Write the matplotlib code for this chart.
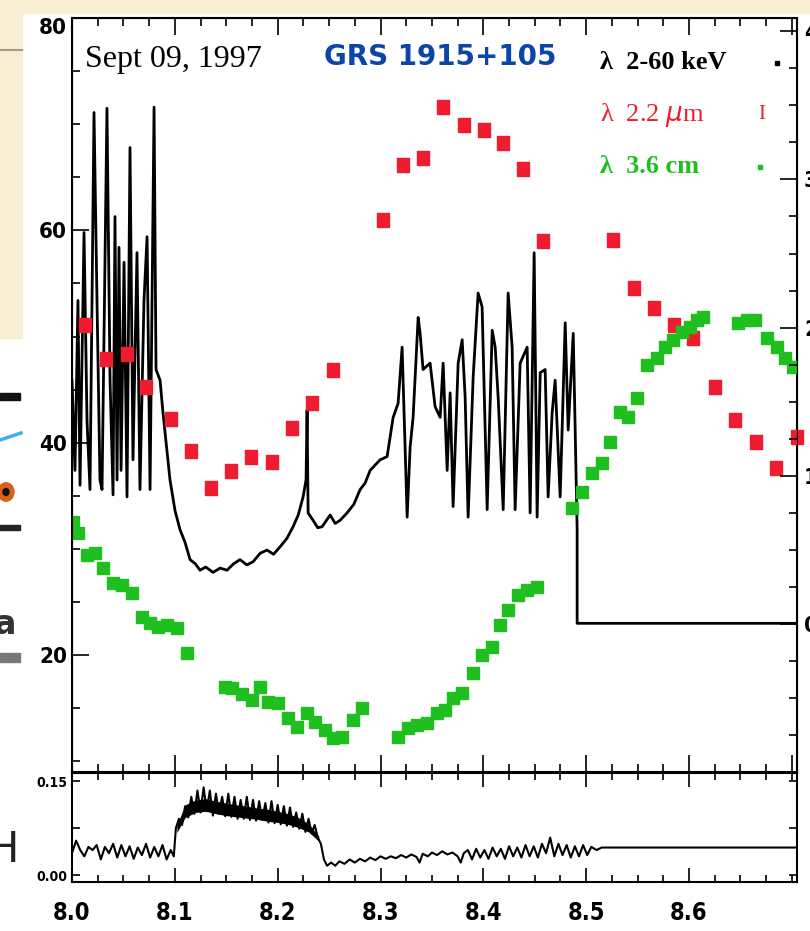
import numpy as np
import matplotlib
matplotlib.use('Agg')
import matplotlib.pyplot as plt
from matplotlib.patches import Rectangle, Circle
from matplotlib.ticker import MultipleLocator

# ---- X-ray light curve, 2-60 keV (counts, left axis) ----
xray_t = [8.0000, 8.0029, 8.0058, 8.0078, 8.0117, 8.0146, 8.0175, 8.0214, 8.0243, 8.0272,
          8.0292, 8.0340, 8.0370, 8.0399, 8.0418, 8.0438, 8.0457, 8.0477, 8.0506, 8.0535,
          8.0564, 8.0593, 8.0632, 8.0661, 8.0700, 8.0730, 8.0759, 8.0798, 8.0817, 8.0856,
          8.0885, 8.0953, 8.1002, 8.1051, 8.1100, 8.1148, 8.1200, 8.1245, 8.1300, 8.1372,
          8.1440, 8.1508, 8.1570, 8.1634, 8.1700, 8.1761, 8.1830, 8.1897, 8.1960, 8.2023,
          8.2090, 8.2150, 8.2200, 8.2247, 8.2276, 8.2286, 8.2296, 8.2344, 8.2390, 8.2432,
          8.2510, 8.2560, 8.2607, 8.2675, 8.2740, 8.2802, 8.2850, 8.2899, 8.2996, 8.3064,
          8.3123, 8.3171, 8.3210, 8.3239, 8.3259,
          8.3288, 8.3317, 8.3366, 8.3385, 8.3414, 8.3482, 8.3531, 8.3580, 8.3609, 8.3648,
          8.3677, 8.3706, 8.3755, 8.3794, 8.3823, 8.3852, 8.3901, 8.3949, 8.3988, 8.4037,
          8.4086, 8.4115, 8.4144, 8.4193, 8.4241, 8.4280, 8.4309, 8.4358, 8.4426, 8.4455,
          8.4494, 8.4523, 8.4553, 8.4601, 8.4630, 8.4669, 8.4698, 8.4747, 8.4796, 8.4825,
          8.4874, 8.4893, 8.4912, 8.4912, 8.7050]
xray_c = [45.9, 37.4, 53.4, 36.0, 59.8, 42.1, 35.6, 71.1, 53.4, 36.5,
          35.6, 71.5, 45.9, 35.1, 61.3, 36.5, 58.4, 37.4, 57.0, 34.9,
          67.8, 38.4, 57.9, 35.6, 53.4, 59.4, 35.6, 71.6, 46.9, 45.9,
          42.8, 36.5, 33.6, 31.8, 30.6, 29.0, 28.6, 28.0, 28.3, 27.8,
          28.2, 28.0, 28.6, 29.0, 28.5, 28.8, 29.6, 29.9, 29.5, 30.2,
          31.0, 32.1, 33.2, 34.9, 36.5, 43.1, 33.4, 32.7, 32.0, 32.1,
          33.2, 32.4, 32.7, 33.4, 34.2, 35.6, 36.2, 37.4, 38.4, 38.7,
          42.4, 43.7, 49.0, 39.6, 33.0,
          39.6, 42.4, 51.8, 50.3, 46.9, 47.5, 43.4, 42.4, 47.5, 37.4,
          44.7, 34.0, 47.5, 49.7, 44.3, 33.0, 46.2, 54.1, 52.8, 33.7,
          50.6, 49.0, 44.3, 33.7, 54.1, 49.0, 33.7, 47.5, 49.0, 33.4,
          57.9, 33.0, 46.6, 46.9, 34.9, 42.8, 45.9, 34.9, 51.3, 41.2,
          50.3, 41.2, 31.8, 23.0, 23.0]

# ---- infrared 2.2 micron (red) ----
ir_t = [8.0126, 8.0331, 8.0535, 8.0720, 8.0963, 8.1158, 8.1352, 8.1547, 8.1741, 8.1946,
        8.2140, 8.2335, 8.2539, 8.3025, 8.3220, 8.3414, 8.3609, 8.3813, 8.4008, 8.4193,
        8.4387, 8.4582, 8.5263, 8.5467, 8.5661, 8.5856, 8.6041, 8.6255, 8.6449, 8.6654,
        8.6848, 8.7053]
ir_f = [51.1, 47.9, 48.4, 45.3, 42.2, 39.2, 35.7, 37.3, 38.7, 38.2,
        41.4, 43.7, 46.9, 61.0, 66.2, 66.8, 71.6, 69.9, 69.5, 68.2,
        65.8, 59.0, 59.1, 54.6, 52.7, 51.1, 49.9, 45.3, 42.1, 40.1,
        37.6, 40.5]

# ---- radio 3.6 cm (green) ----
radio_t = [8.0010, 8.0058, 8.0146, 8.0224, 8.0302, 8.0399, 8.0486, 8.0584, 8.0681, 8.0759,
           8.0837, 8.0924, 8.1021, 8.1119, 8.1488, 8.1556, 8.1654, 8.1751, 8.1829, 8.1907,
           8.2004, 8.2101, 8.2189, 8.2286, 8.2364, 8.2461, 8.2539, 8.2626, 8.2733, 8.2821,
           8.3171, 8.3268, 8.3356, 8.3453, 8.3551, 8.3628, 8.3706, 8.3794, 8.3901, 8.3988,
           8.4086, 8.4163, 8.4241, 8.4339, 8.4426, 8.4523, 8.4864, 8.4961, 8.5058, 8.5156,
           8.5233, 8.5331, 8.5409, 8.5496, 8.5593, 8.5691, 8.5768, 8.5846, 8.5934, 8.6012,
           8.6080, 8.6138, 8.6479, 8.6566, 8.6644, 8.6761, 8.6858, 8.6936, 8.7014]
radio_f = [32.5, 31.5, 29.4, 29.6, 28.2, 26.8, 26.6, 25.9, 23.6, 23.0,
           22.7, 22.8, 22.6, 20.2, 17.0, 16.9, 16.3, 15.8, 17.0, 15.6,
           15.5, 14.1, 13.2, 14.6, 13.7, 13.0, 12.2, 12.3, 13.9, 15.0,
           12.3, 13.1, 13.4, 13.6, 14.6, 14.8, 16.0, 16.4, 18.3, 20.0,
           20.8, 22.8, 24.3, 25.7, 26.1, 26.4, 33.9, 35.4, 37.2, 38.1,
           40.1, 42.9, 42.4, 44.2, 47.3, 48.0, 49.0, 49.7, 50.4, 50.9,
           51.6, 51.8, 51.3, 51.6, 51.6, 49.9, 49.0, 48.0, 47.1]

# ---- hardness ratio (lower panel) ----
hr_t = [8.000, 8.004, 8.008, 8.012, 8.016, 8.020, 8.024, 8.028, 8.032, 8.036,
        8.040, 8.044, 8.048, 8.052, 8.056, 8.060, 8.064, 8.068, 8.072, 8.076,
        8.080, 8.084, 8.088, 8.092, 8.096, 8.099, 8.101, 8.104, 8.107, 8.110,
        8.113, 8.116, 8.119, 8.122, 8.125, 8.128, 8.131, 8.134, 8.137, 8.140,
        8.143, 8.146, 8.149, 8.152, 8.155, 8.158, 8.161, 8.164, 8.167, 8.170,
        8.173, 8.176, 8.179, 8.182, 8.185, 8.188, 8.191, 8.194, 8.197, 8.200,
        8.203, 8.206, 8.209, 8.212, 8.215, 8.218, 8.221, 8.224, 8.227, 8.230,
        8.233, 8.236, 8.239, 8.242, 8.245, 8.248, 8.252, 8.256, 8.260, 8.265,
        8.270, 8.275, 8.280, 8.285, 8.290, 8.295, 8.300, 8.305, 8.310, 8.315,
        8.320, 8.325, 8.330, 8.335, 8.338, 8.341, 8.346, 8.350, 8.355, 8.360,
        8.365, 8.370, 8.375, 8.378, 8.381, 8.385, 8.389, 8.393, 8.397, 8.401,
        8.405, 8.409, 8.413, 8.417, 8.421, 8.425, 8.429, 8.433, 8.437, 8.441,
        8.445, 8.449, 8.453, 8.457, 8.461, 8.465, 8.469, 8.473, 8.477, 8.481,
        8.485, 8.489, 8.493, 8.497, 8.501, 8.505, 8.510, 8.515, 8.705]
hr_v = [0.035, 0.055, 0.040, 0.030, 0.045, 0.040, 0.048, 0.025, 0.045, 0.035,
        0.050, 0.028, 0.048, 0.030, 0.046, 0.026, 0.044, 0.032, 0.050, 0.028,
        0.045, 0.030, 0.048, 0.025, 0.040, 0.030, 0.075, 0.090, 0.080, 0.110,
        0.092, 0.125, 0.098, 0.135, 0.100, 0.140, 0.102, 0.135, 0.095, 0.130,
        0.098, 0.125, 0.094, 0.130, 0.093, 0.125, 0.090, 0.120, 0.090, 0.125,
        0.088, 0.120, 0.087, 0.118, 0.088, 0.115, 0.084, 0.118, 0.083, 0.112,
        0.081, 0.110, 0.079, 0.108, 0.077, 0.100, 0.074, 0.098, 0.069, 0.090,
        0.067, 0.080, 0.060, 0.050, 0.025, 0.015, 0.020, 0.015, 0.022, 0.018,
        0.025, 0.020, 0.026, 0.022, 0.028, 0.024, 0.030, 0.026, 0.030, 0.027,
        0.032, 0.028, 0.033, 0.029, 0.020, 0.034, 0.030, 0.036, 0.032, 0.038,
        0.033, 0.036, 0.030, 0.020, 0.035, 0.040, 0.025, 0.042, 0.028, 0.040,
        0.026, 0.044, 0.030, 0.042, 0.026, 0.046, 0.030, 0.044, 0.028, 0.048,
        0.030, 0.046, 0.028, 0.050, 0.035, 0.060, 0.030, 0.050, 0.032, 0.048,
        0.028, 0.046, 0.030, 0.048, 0.032, 0.045, 0.040, 0.044, 0.044]

# dark core of the noisy hard band (8.10-8.245)
band_t = [8.102, 8.110, 8.120, 8.130, 8.140, 8.150, 8.160, 8.170, 8.180, 8.190,
          8.200, 8.210, 8.220, 8.230, 8.240]
band_hi = [0.080, 0.112, 0.120, 0.122, 0.118, 0.115, 0.112, 0.110, 0.107, 0.105,
           0.102, 0.098, 0.092, 0.082, 0.062]
band_lo = [0.068, 0.092, 0.100, 0.102, 0.098, 0.095, 0.093, 0.091, 0.089, 0.086,
           0.084, 0.081, 0.076, 0.069, 0.054]

xticks = [8.0, 8.1, 8.2, 8.3, 8.4, 8.5, 8.6]
red = '#ee1c2e'
green = '#1fbf1f'
cream = '#f7eed3'

W, H = 810, 931
fig = plt.figure(figsize=(W/100, H/100), dpi=100, facecolor='white')

def fx(x): return x / W
def fy(y): return 1 - y / H

# slide background bits around the scanned figure
fig.patches.append(Rectangle((0, fy(13)), 1, 13/H, transform=fig.transFigure, color=cream, zorder=0))
fig.patches.append(Rectangle((0, fy(338)), fx(22), 338/H, transform=fig.transFigure, color=cream, zorder=0))
fig.lines.append(plt.Line2D([0, fx(22)], [fy(50), fy(50)], transform=fig.transFigure, color='#a8998a', lw=1.5))
fig.patches.append(Rectangle((0, fy(400)), fx(20), 7/H, transform=fig.transFigure, color='#111111'))
fig.lines.append(plt.Line2D([0, fx(21)], [fy(440), fy(433)], transform=fig.transFigure, color='#3fb0f0', lw=2.5))
fig.patches.append(Circle((fx(6), fy(492)), 8/W, transform=fig.transFigure, color='#d8621a'))
fig.patches.append(Circle((fx(6), fy(492)), 3/W, transform=fig.transFigure, color='#111111'))
fig.patches.append(Rectangle((0, fy(530)), fx(20), 5/H, transform=fig.transFigure, color='#222222'))
fig.text(fx(-6), fy(625), 'a', fontsize=24, color='#333333', va='center', ha='left', fontweight='bold')
fig.patches.append(Rectangle((0, fy(662)), fx(20), 9/H, transform=fig.transFigure, color='#777777'))
fig.text(fx(-12), fy(850), 'H', fontsize=30, color='#222222', va='center', ha='left')

ax = fig.add_axes([fx(72), fy(772), fx(797) - fx(72), fy(18) - fy(772)])
axh = fig.add_axes([fx(72), fy(882), fx(797) - fx(72), fy(773) - fy(882)])

tickfont = dict(family='DejaVu Sans', fontstretch='condensed', fontweight='bold')

# main panel
ax.plot(xray_t, xray_c, color='black', lw=2.0, zorder=3)
rect = [(-0.38, -0.5), (0.38, -0.5), (0.38, 0.5), (-0.38, 0.5), (-0.38, -0.5)]
ax.plot(ir_t, ir_f, ls='none', marker=rect, ms=10.5, color=red, mec=red, zorder=4, clip_on=False)
ax.plot(radio_t, radio_f, ls='none', marker='s', ms=8, color=green, mec=green, zorder=4, clip_on=True)
ax.set_xlim(8.0, 8.705)
ax.set_ylim(9.0, 80.0)
ax.xaxis.set_major_locator(MultipleLocator(0.1))
ax.xaxis.set_minor_locator(MultipleLocator(0.025))
ax.yaxis.set_major_locator(MultipleLocator(20))
ax.yaxis.set_minor_locator(MultipleLocator(5))
ax.tick_params(which='both', direction='in', top=True, bottom=True, left=True, right=False,
               labelbottom=False, width=1.2)
ax.tick_params(which='major', length=12)
ax.tick_params(which='minor', length=6)
ax.set_yticks([20, 40, 60, 80])
ax.set_yticklabels(['20', '40', '60', '80'], fontsize=16, **tickfont)
ax.get_yticklabels()[-1].set_va('top')
for s in ax.spines.values():
    s.set_linewidth(1.5)

axr = ax.twinx()
axr.set_ylim(-1.0, 4.09)
axr.yaxis.set_major_locator(MultipleLocator(1))
axr.yaxis.set_minor_locator(MultipleLocator(0.25))
axr.tick_params(which='both', direction='in', width=1.2, pad=5)
axr.tick_params(which='major', length=12)
axr.tick_params(which='minor', length=6)
axr.set_yticks([0, 1, 2, 3, 4])
axr.set_yticklabels(['0', '1', '2', '3', '4'], fontsize=16, **tickfont)

# labels inside the frame
ax.text(8.013, 76.1, 'Sept 09, 1997', family=['Liberation Serif', 'DejaVu Serif'], fontsize=23,
        va='center', ha='left')
ax.text(8.245, 76.3, 'GRS 1915+105', family=['DejaVu Sans'], fontweight='bold', fontsize=20,
        color='#0d44a8', va='center', ha='left')
legfont = ['Liberation Serif', 'DejaVu Serif']
ax.text(8.513, 75.8, 'λ  2-60 keV', family=legfont, fontsize=19, fontweight='bold', va='center', ha='left')
ax.plot([8.686], [75.8], ls='none', marker='s', ms=2.5, color='black')
ax.text(8.513, 70.9, 'λ  2.2 $\\mu$m', family=legfont, fontsize=19, color=red, va='center', ha='left')
ax.text(8.667, 70.9, 'I', family=legfont, fontsize=15, color=red, va='center', ha='left')
ax.text(8.513, 66.0, 'λ  3.6 cm', family=legfont, fontsize=19, color=green, fontweight='bold',
        va='center', ha='left')
ax.plot([8.669], [66.0], ls='none', marker='s', ms=3.5, color=green)

# hardness panel
axh.fill_between(band_t, band_lo, band_hi, color='black', lw=0)
axh.plot(hr_t, hr_v, color='black', lw=1.5)
axh.set_xlim(8.0, 8.705)
axh.set_ylim(-0.011, 0.163)
axh.xaxis.set_major_locator(MultipleLocator(0.1))
axh.xaxis.set_minor_locator(MultipleLocator(0.025))
axh.set_yticks([0.0, 0.075, 0.15])
axh.set_yticklabels(['0.00', '', '0.15'], fontsize=10, **tickfont)
axh.tick_params(which='both', direction='in', top=True, right=True, width=1.2)
axh.tick_params(which='major', length=10)
axh.tick_params(which='minor', length=5)
axh.tick_params(axis='y', which='major', length=6, pad=3)
axh.set_xticks(xticks)
axh.set_xticklabels(['%.1f' % v for v in xticks], fontsize=17, **tickfont)
axh.tick_params(axis='x', pad=14)
for s in axh.spines.values():
    s.set_linewidth(1.5)

fig.savefig('out.png', dpi=100, facecolor='white')
